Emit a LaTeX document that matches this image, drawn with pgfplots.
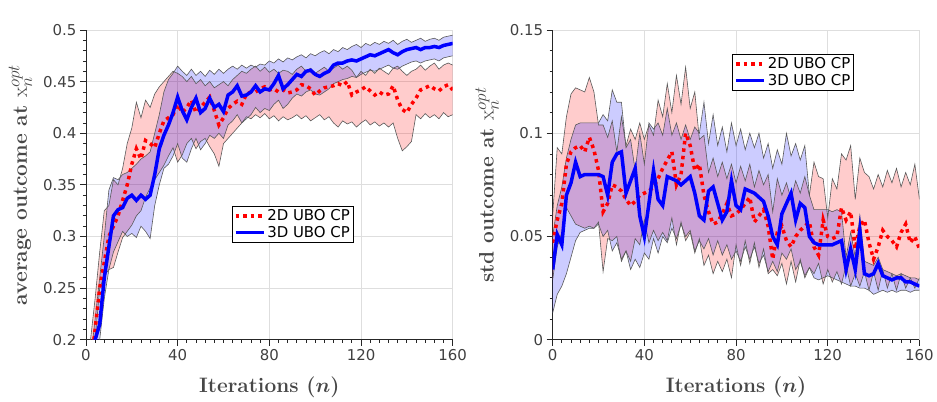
\documentclass[border=0pt]{standalone}
\usepackage{fontspec}
\setsansfont{DejaVu Sans}
\usepackage{bm}
\usepackage{pgfplots}
\pgfplotsset{compat=1.18}
\usepackage{pgfplotstable}
\usepgfplotslibrary{fillbetween}
\DeclareMathSizes{21}{21}{16.5}{12}
\definecolor{axgray}{rgb}{0.15,0.15,0.15}
\definecolor{tickgray}{rgb}{0.25,0.25,0.25}
\definecolor{labgray}{rgb}{0.28,0.28,0.28}
\definecolor{gridgray}{rgb}{0.87,0.87,0.87}
\definecolor{edgegray}{rgb}{0.35,0.35,0.35}

\pgfplotstableread{
n m2 lo2 hi2 m3 lo3 hi3
0 0.15 0.13 0.17 0.14 0.12 0.15
2 0.17 0.15 0.20 0.16 0.14 0.18
4 0.21 0.20 0.24 0.20 0.17 0.22
6 0.25 0.25 0.285 0.215 0.20 0.26
8 0.275 0.262 0.325 0.26 0.24 0.30
10 0.30 0.268 0.33 0.29 0.268 0.345
12 0.31 0.27 0.355 0.32 0.285 0.357
14 0.32 0.285 0.35 0.326 0.295 0.355
16 0.335 0.299 0.366 0.328 0.305 0.36
18 0.35 0.305 0.39 0.337 0.30 0.362
20 0.37 0.311 0.405 0.34 0.303 0.366
22 0.385 0.32 0.43 0.335 0.299 0.37
24 0.375 0.325 0.415 0.34 0.31 0.375
26 0.393 0.338 0.432 0.336 0.305 0.378
28 0.39 0.347 0.425 0.34 0.298 0.382
30 0.386 0.355 0.438 0.36 0.33 0.40
32 0.40 0.362 0.445 0.385 0.35 0.418
34 0.412 0.369 0.45 0.398 0.366 0.44
36 0.415 0.378 0.455 0.408 0.37 0.452
38 0.418 0.386 0.46 0.42 0.378 0.458
40 0.428 0.372 0.458 0.435 0.39 0.465
42 0.42 0.379 0.455 0.422 0.376 0.46
44 0.425 0.39 0.45 0.413 0.372 0.456
46 0.432 0.395 0.455 0.425 0.385 0.462
48 0.42 0.385 0.448 0.434 0.395 0.456
50 0.425 0.392 0.452 0.42 0.384 0.46
52 0.43 0.395 0.446 0.424 0.39 0.455
54 0.435 0.387 0.45 0.434 0.398 0.461
56 0.422 0.38 0.444 0.425 0.395 0.457
58 0.408 0.368 0.447 0.428 0.40 0.462
60 0.415 0.39 0.45 0.421 0.395 0.458
62 0.424 0.395 0.446 0.437 0.408 0.462
64 0.428 0.40 0.452 0.44 0.412 0.465
66 0.431 0.405 0.456 0.446 0.418 0.462
68 0.428 0.41 0.46 0.436 0.41 0.466
70 0.438 0.416 0.458 0.437 0.414 0.463
72 0.44 0.414 0.462 0.44 0.418 0.466
74 0.44 0.418 0.465 0.446 0.425 0.464
76 0.443 0.415 0.46 0.44 0.42 0.467
78 0.445 0.419 0.464 0.443 0.424 0.466
80 0.442 0.414 0.459 0.442 0.422 0.47
82 0.443 0.417 0.462 0.448 0.428 0.468
84 0.44 0.412 0.458 0.456 0.432 0.472
86 0.442 0.416 0.461 0.443 0.424 0.469
88 0.439 0.413 0.46 0.447 0.428 0.473
90 0.44 0.415 0.457 0.452 0.434 0.471
92 0.442 0.418 0.462 0.457 0.438 0.474
94 0.447 0.414 0.465 0.455 0.436 0.476
96 0.446 0.417 0.46 0.46 0.44 0.473
98 0.443 0.412 0.463 0.461 0.442 0.477
100 0.437 0.415 0.458 0.457 0.438 0.475
102 0.441 0.418 0.461 0.455 0.437 0.478
104 0.444 0.413 0.464 0.458 0.44 0.48
106 0.445 0.416 0.46 0.46 0.443 0.477
108 0.446 0.41 0.463 0.466 0.448 0.481
110 0.448 0.406 0.466 0.468 0.45 0.479
112 0.446 0.412 0.462 0.468 0.452 0.483
114 0.45 0.409 0.465 0.47 0.453 0.481
116 0.437 0.411 0.461 0.471 0.455 0.484
118 0.44 0.406 0.454 0.47 0.454 0.486
120 0.442 0.41 0.46 0.472 0.457 0.483
122 0.445 0.413 0.456 0.474 0.459 0.487
124 0.441 0.408 0.462 0.476 0.461 0.485
126 0.437 0.411 0.458 0.475 0.46 0.488
128 0.44 0.407 0.463 0.477 0.462 0.486
130 0.437 0.41 0.46 0.479 0.464 0.489
132 0.438 0.406 0.457 0.481 0.466 0.487
134 0.446 0.41 0.463 0.478 0.463 0.49
136 0.432 0.395 0.465 0.476 0.462 0.486
138 0.423 0.383 0.46 0.479 0.465 0.489
140 0.42 0.387 0.456 0.481 0.467 0.491
142 0.428 0.392 0.46 0.482 0.469 0.488
144 0.434 0.418 0.462 0.483 0.47 0.49
146 0.442 0.414 0.466 0.481 0.468 0.492
148 0.444 0.419 0.461 0.483 0.47 0.489
150 0.446 0.415 0.465 0.483 0.471 0.491
152 0.443 0.418 0.468 0.484 0.472 0.492
154 0.441 0.414 0.462 0.483 0.47 0.49
156 0.445 0.42 0.466 0.485 0.473 0.493
158 0.447 0.416 0.468 0.486 0.474 0.494
160 0.442 0.418 0.466 0.487 0.475 0.495
}\leftdata

\pgfplotstableread{
n m2 lo2 hi2 m3 lo3 hi3
0 0.047 0.029 0.060 0.034 0.013 0.050
2 0.058 0.045 0.093 0.051 0.022 0.065
4 0.066 0.052 0.090 0.046 0.026 0.074
6 0.085 0.064 0.108 0.070 0.032 0.088
8 0.091 0.060 0.119 0.076 0.040 0.097
10 0.093 0.056 0.122 0.086 0.048 0.104
12 0.094 0.055 0.121 0.079 0.052 0.105
14 0.091 0.054 0.120 0.080 0.053 0.105
16 0.098 0.055 0.127 0.080 0.054 0.105
18 0.092 0.054 0.120 0.080 0.054 0.105
20 0.082 0.057 0.104 0.080 0.056 0.105
22 0.062 0.033 0.104 0.079 0.050 0.109
24 0.066 0.049 0.098 0.070 0.053 0.106
26 0.075 0.048 0.106 0.086 0.043 0.121
28 0.074 0.050 0.091 0.090 0.047 0.115
30 0.072 0.038 0.108 0.091 0.039 0.115
32 0.068 0.043 0.094 0.071 0.043 0.093
34 0.065 0.038 0.102 0.077 0.034 0.097
36 0.067 0.049 0.097 0.083 0.039 0.082
38 0.070 0.046 0.105 0.060 0.035 0.100
40 0.071 0.058 0.097 0.050 0.042 0.085
42 0.072 0.047 0.104 0.066 0.039 0.105
44 0.074 0.053 0.099 0.082 0.049 0.102
46 0.078 0.048 0.116 0.068 0.042 0.105
48 0.083 0.052 0.108 0.065 0.050 0.099
50 0.087 0.048 0.124 0.079 0.047 0.112
52 0.091 0.059 0.110 0.078 0.054 0.099
54 0.075 0.046 0.128 0.077 0.049 0.105
56 0.080 0.057 0.114 0.075 0.056 0.097
58 0.100 0.048 0.132 0.077 0.050 0.104
60 0.094 0.052 0.112 0.079 0.053 0.097
62 0.082 0.042 0.120 0.071 0.043 0.103
64 0.085 0.049 0.097 0.060 0.048 0.100
66 0.070 0.036 0.099 0.058 0.044 0.115
68 0.062 0.041 0.081 0.072 0.049 0.095
70 0.056 0.032 0.088 0.074 0.041 0.109
72 0.057 0.038 0.079 0.066 0.048 0.094
74 0.061 0.033 0.086 0.058 0.041 0.103
76 0.066 0.039 0.078 0.062 0.046 0.091
78 0.060 0.030 0.085 0.077 0.039 0.105
80 0.061 0.046 0.076 0.065 0.043 0.094
82 0.063 0.036 0.084 0.063 0.038 0.102
84 0.066 0.048 0.077 0.073 0.045 0.092
86 0.069 0.037 0.085 0.072 0.039 0.100
88 0.057 0.047 0.074 0.071 0.045 0.093
90 0.060 0.035 0.082 0.069 0.037 0.100
92 0.063 0.044 0.075 0.067 0.041 0.088
94 0.055 0.032 0.080 0.060 0.033 0.095
96 0.039 0.034 0.062 0.050 0.038 0.083
98 0.052 0.031 0.078 0.046 0.033 0.092
100 0.055 0.037 0.070 0.061 0.042 0.085
102 0.048 0.027 0.076 0.066 0.039 0.100
104 0.045 0.038 0.068 0.071 0.044 0.089
106 0.050 0.028 0.077 0.058 0.034 0.095
108 0.053 0.039 0.071 0.066 0.038 0.087
110 0.055 0.030 0.079 0.064 0.031 0.094
112 0.057 0.035 0.070 0.050 0.035 0.070
114 0.045 0.032 0.086 0.047 0.030 0.063
116 0.041 0.037 0.079 0.046 0.029 0.063
118 0.058 0.027 0.078 0.046 0.030 0.063
120 0.050 0.034 0.059 0.046 0.031 0.063
122 0.049 0.028 0.078 0.046 0.030 0.062
124 0.050 0.033 0.073 0.047 0.029 0.063
126 0.064 0.027 0.090 0.048 0.028 0.062
128 0.058 0.036 0.087 0.034 0.027 0.040
130 0.062 0.026 0.094 0.044 0.026 0.052
132 0.044 0.032 0.068 0.034 0.026 0.040
134 0.055 0.026 0.088 0.053 0.025 0.060
136 0.058 0.033 0.081 0.032 0.025 0.038
138 0.047 0.024 0.079 0.031 0.024 0.037
140 0.039 0.033 0.073 0.032 0.022 0.036
142 0.045 0.024 0.080 0.037 0.023 0.040
144 0.053 0.034 0.074 0.031 0.024 0.034
146 0.050 0.025 0.082 0.030 0.023 0.033
148 0.048 0.032 0.076 0.029 0.024 0.032
150 0.045 0.024 0.083 0.030 0.023 0.031
152 0.052 0.032 0.074 0.030 0.024 0.032
154 0.056 0.025 0.081 0.028 0.024 0.031
156 0.047 0.030 0.075 0.028 0.023 0.030
158 0.050 0.025 0.085 0.027 0.024 0.030
160 0.044 0.030 0.068 0.026 0.024 0.029
}\rightdata

\pgfplotsset{
  matstyle/.style={
    width=367bp, height=310bp, scale only axis,
    xmin=0, xmax=160, xtick={0,40,80,120,160}, minor x tick num=9,
    axis x line*=bottom, axis y line*=left,
    axis line style={draw=axgray, line width=0.8bp},
    tick align=outside, major tick length=6bp, minor tick length=3bp,
    every tick/.style={draw=axgray, line width=0.8bp},
    grid=major, major grid style={draw=gridgray, line width=0.8bp},
    tick label style={font=\fontsize{15}{18}\selectfont\sffamily, text=tickgray},
    /pgf/number format/assume math mode=true,
    label style={font=\fontsize{21}{25}\selectfont\bfseries, text=labgray},
    xlabel={Iterations ($\bm{n}$)},
    xlabel style={at={(axis description cs:0.5,0)}, anchor=base, yshift=-53bp},
    ylabel style={at={(axis description cs:-0.1608,0.5)}, anchor=base, rotate=0},
    legend cell align=left,
    legend style={draw=black, line width=0.8bp, fill=white,
      font=\fontsize{15}{18}\selectfont\sffamily, text=black,
      inner sep=1.5bp, row sep=0bp, anchor=north west},
    legend image code/.code={\draw[##1] (0bp,0bp) -- (28bp,0bp);},
    clip=true,
  },
  redband/.style={fill=red, fill opacity=0.2, draw=none, forget plot},
  blueband/.style={fill=blue, fill opacity=0.2, draw=none, forget plot},
  edge/.style={draw=edgegray, line width=0.6bp, forget plot},
  redline/.style={draw=red, line width=3.5bp, dash pattern=on 3.5bp off 4bp},
  blueline/.style={draw=blue, line width=3.5bp},
}

\begin{document}
\begin{tikzpicture}
\begin{axis}[matstyle, name=left, at={(0,0)}, anchor=south west,
  ymin=0.2, ymax=0.5, ytick={0.2,0.25,0.3,0.35,0.4,0.45,0.5},
  yticklabels={0.2,0.25,0.3,0.35,0.4,0.45,0.5}, minor y tick num=4,
  ylabel={average outcome at $\mathrm{x}^{opt}_{n}$},
  legend style={at={(axis description cs:0.398,0.432)}}]
\addplot[edge, name path=rh] table[x=n, y=hi2] {\leftdata};
\addplot[edge, name path=rl] table[x=n, y=lo2] {\leftdata};
\addplot[redband] fill between[of=rh and rl];
\addplot[edge, name path=bh] table[x=n, y=hi3] {\leftdata};
\addplot[edge, name path=bl] table[x=n, y=lo3] {\leftdata};
\addplot[blueband] fill between[of=bh and bl];
\addplot[redline] table[x=n, y=m2] {\leftdata};
\addlegendentry{2D UBO CP}
\addplot[blueline] table[x=n, y=m3] {\leftdata};
\addlegendentry{3D UBO CP}
\end{axis}
\begin{axis}[matstyle, name=right, at={(467bp,0)}, anchor=south west,
  ymin=0, ymax=0.15, ytick={0,0.05,0.1,0.15},
  yticklabels={0,0.05,0.1,0.15}, minor y tick num=4,
  ylabel={std outcome at $\mathrm{x}^{opt}_{n}$},
  legend style={at={(axis description cs:0.49,0.923)}}]
\addplot[edge, name path=rh] table[x=n, y=hi2] {\rightdata};
\addplot[edge, name path=rl] table[x=n, y=lo2] {\rightdata};
\addplot[redband] fill between[of=rh and rl];
\addplot[edge, name path=bh] table[x=n, y=hi3] {\rightdata};
\addplot[edge, name path=bl] table[x=n, y=lo3] {\rightdata};
\addplot[blueband] fill between[of=bh and bl];
\addplot[redline] table[x=n, y=m2] {\rightdata};
\addlegendentry{2D UBO CP}
\addplot[blueline] table[x=n, y=m3] {\rightdata};
\addlegendentry{3D UBO CP}
\end{axis}
\path (left.south west) ++(-86bp,-60bp) rectangle ++(937bp,400bp);
\end{tikzpicture}
\end{document}
